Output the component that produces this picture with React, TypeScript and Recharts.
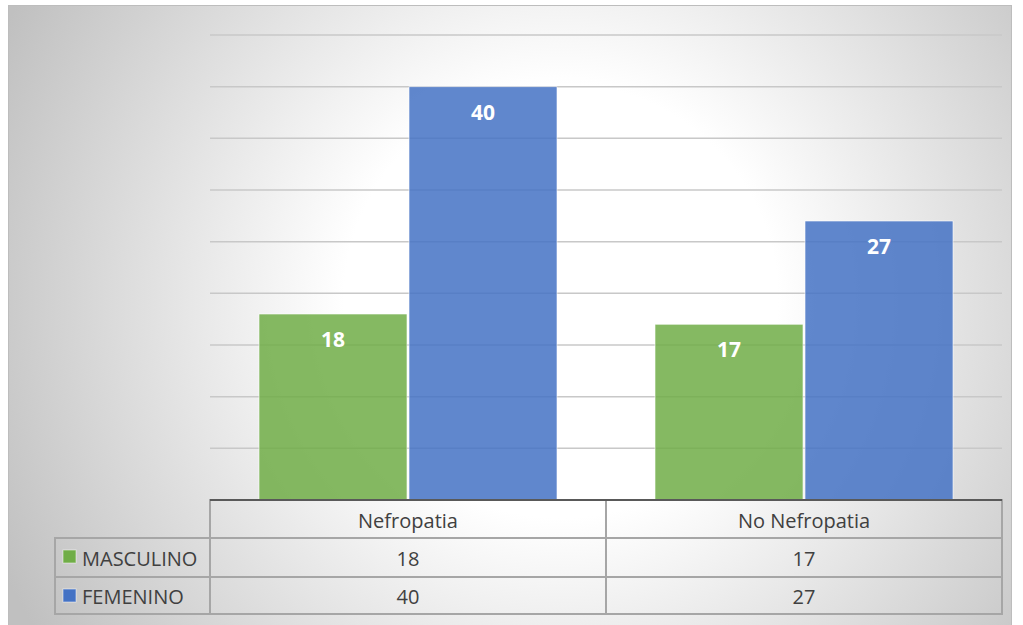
import { BarChart, Bar, XAxis, YAxis, CartesianGrid, LabelList } from 'recharts';

// Chart colors (Excel-like palette)
const colors = {
  masculino: '#70AD47',
  femenino: '#4472C4',
  grid: '#c8c8c8',
  axis: '#595959',
  cell: '#a6a6a6',
  text: '#404040',
};

const categories = ['Nefropatia', 'No Nefropatia'];
const masculino = [18, 17];
const femenino = [40, 27];
const seriesNames = ['MASCULINO', 'FEMENINO'];
const yTicks = [0, 5, 10, 15, 20, 25, 30, 35, 40, 45];

const data = categories.map((name, i) => ({
  name,
  masculino: masculino[i],
  femenino: femenino[i],
}));

const FONT = '"Open Sans", sans-serif';
const PLOT_LEFT = 210;
const PLOT_RIGHT = 1002;
const COL_W = (PLOT_RIGHT - PLOT_LEFT) / categories.length;
// data table rows
const ROWS = [500, 538, 577, 614];

function TableTick(props: any) {
  const { x, index, payload } = props;
  const left = x - COL_W / 2;
  const values = [masculino[index], femenino[index]];
  const swatches = [colors.masculino, colors.femenino];
  return (
    <g fontFamily={FONT} fill={colors.text}>
      {index === 0 && (
        <g>
          {seriesNames.map((s, r) => (
            <g key={s}>
              <rect
                x={55}
                y={ROWS[r + 1]}
                width={PLOT_LEFT - 55}
                height={ROWS[r + 2] - ROWS[r + 1]}
                fill="none"
                stroke={colors.cell}
                strokeWidth={2}
              />
              <rect
                x={63}
                y={ROWS[r + 1] + 12}
                width={13}
                height={13}
                fill={swatches[r]}
                stroke="#fff"
                strokeOpacity={0.5}
              />
              <text
                x={82}
                y={(ROWS[r + 1] + ROWS[r + 2]) / 2 + 1}
                fontSize={20}
                dominantBaseline="central"
                fill={colors.text}
              >
                {s}
              </text>
            </g>
          ))}
        </g>
      )}
      {[0, 1, 2].map((r) => (
        <rect
          key={r}
          x={left}
          y={ROWS[r]}
          width={COL_W}
          height={ROWS[r + 1] - ROWS[r]}
          fill="none"
          stroke={colors.cell}
          strokeWidth={2}
        />
      ))}
      <text
        x={x}
        y={(ROWS[0] + ROWS[1]) / 2 + 1}
        fontSize={20}
        textAnchor="middle"
        dominantBaseline="central"
        fill={colors.text}
      >
        {payload.value}
      </text>
      {values.map((v, r) => (
        <text
          key={r}
          x={x}
          y={(ROWS[r + 1] + ROWS[r + 2]) / 2 + 1}
          fontSize={20}
          textAnchor="middle"
          dominantBaseline="central"
          fill={colors.text}
        >
          {v}
        </text>
      ))}
      <line x1={PLOT_LEFT} x2={PLOT_RIGHT} y1={ROWS[0]} y2={ROWS[0]} stroke={colors.axis} strokeWidth={2} />
    </g>
  );
}

export default function App() {
  return (
    <div style={{ position: 'absolute', left: 0, top: 0, width: 1023, height: 625, overflow: 'hidden' }}>
      <div
        style={{
          position: 'absolute',
          left: 8,
          top: 5,
          width: 1004,
          height: 630,
          boxSizing: 'border-box',
          border: '1px solid #bdbdbd',
          background: 'radial-gradient(circle 620px at 552px 295px, #ffffff 35%, #c0c0c0 100%)',
        }}
      />
      <div style={{ position: 'absolute', left: 0, top: 0 }}>
        <BarChart
          width={1023}
          height={625}
          data={data}
          margin={{ top: 35, right: 1023 - PLOT_RIGHT, left: PLOT_LEFT, bottom: 0 }}
          barCategoryGap={49}
          barGap={2}
        >
          <CartesianGrid vertical={false} stroke={colors.grid} strokeWidth={1.5} />
          <YAxis hide domain={[0, 45]} ticks={yTicks} width={0} />
          <XAxis
            dataKey="name"
            height={125}
            axisLine={{ stroke: colors.axis, strokeWidth: 2 }}
            tickLine={false}
            tick={<TableTick />}
            interval={0}
          />
          <Bar
            dataKey="masculino"
            fill={colors.masculino}
            fillOpacity={0.85}
            stroke="#ffffff"
            strokeOpacity={0.6}
            isAnimationActive={false}
          >
            <LabelList
              dataKey="masculino"
              position="insideTop"
              offset={18}
              fill="#ffffff"
              fontSize={21}
              fontWeight="bold"
              fontFamily={FONT}
            />
          </Bar>
          <Bar
            dataKey="femenino"
            fill={colors.femenino}
            fillOpacity={0.85}
            stroke="#ffffff"
            strokeOpacity={0.6}
            isAnimationActive={false}
          >
            <LabelList
              dataKey="femenino"
              position="insideTop"
              offset={18}
              fill="#ffffff"
              fontSize={21}
              fontWeight="bold"
              fontFamily={FONT}
            />
          </Bar>
        </BarChart>
      </div>
    </div>
  );
}
